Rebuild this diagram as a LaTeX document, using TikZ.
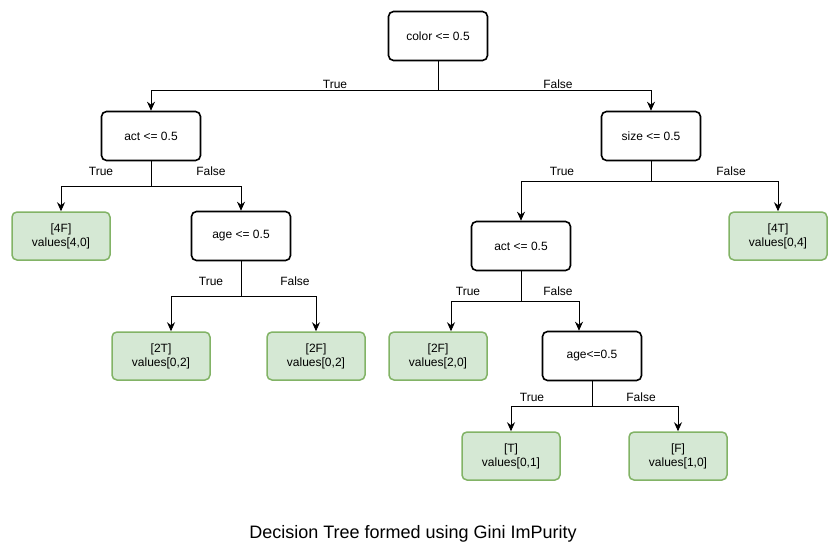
\documentclass[tikz,border=0pt]{standalone}
\usepackage{fontspec}
\setmainfont{Liberation Sans}
\usepackage{tikz}
\usetikzlibrary{arrows.meta}

\definecolor{leaffill}{HTML}{D5E8D4}
\definecolor{leafline}{HTML}{82B366}

\tikzset{
  test/.style={draw, line width=1.6pt, rounded corners=5pt, minimum width=99pt, minimum height=49pt, font=\fontsize{12}{14}\selectfont},
  leaf/.style={draw=leafline, fill=leaffill, line width=1.5pt, rounded corners=5pt, minimum width=98pt, minimum height=48pt, align=center, font=\fontsize{12}{14}\selectfont},
  arr/.style={-{Stealth[length=9pt,width=8pt]}, line width=0.9pt},
  lbl/.style={font=\fontsize{12}{14}\selectfont}
}

\begin{document}
\begin{tikzpicture}[x=1pt, y=-1pt]
\useasboundingbox (0,0) rectangle (839,555);

\node[test] (root) at (438, 36) {color <= 0.5};
\node[test] (act1) at (151, 136) {act <= 0.5};
\node[test] (size) at (651, 136) {size <= 0.5};
\node[leaf] (f4) at (61, 236) {[4F]\\values[4,0]};
\node[test] (age1) at (241, 236) {age <= 0.5};
\node[leaf] (t4) at (778, 236) {[4T]\\values[0,4]};
\node[test] (act2) at (521, 246) {act <= 0.5};
\node[leaf] (t2) at (161, 356) {[2T]\\values[0,2]};
\node[leaf] (f2) at (316, 356) {[2F]\\values[0,2]};
\node[leaf] (f2b) at (438, 356) {[2F]\\values[2,0]};
\node[test] (age2) at (592, 356) {age<=0.5};
\node[leaf] (t1) at (511, 456) {[T]\\values[0,1]};
\node[leaf] (f1) at (678, 456) {[F]\\values[1,0]};

\node[lbl] (rootT) at (335, 84) {True};
\node[lbl] (rootF) at (558, 84) {False};
\node[lbl] (act1T) at (101, 171) {True};
\node[lbl] (act1F) at (211, 171) {False};
\node[lbl] (age1T) at (211, 281) {True};
\node[lbl] (age1F) at (295, 281) {False};
\node[lbl] (sizeT) at (562, 171) {True};
\node[lbl] (sizeF) at (731, 171) {False};
\node[lbl] (act2T) at (468, 291) {True};
\node[lbl] (act2F) at (558, 291) {False};
\node[lbl] (age2T) at (532, 397) {True};
\node[lbl] (age2F) at (641, 397) {False};

\draw[arr] (root.south) -- ++(0,29) -| (act1.north);
\draw[arr] (root.south) -- ++(0,29) -| (size.north);
\draw[arr] (act1.south) -- ++(0,25) -| (f4.north);
\draw[arr] (act1.south) -- ++(0,25) -| (age1.north);
\draw[arr] (age1.south) -- ++(0,35) -| ([xshift=10pt]t2.north);
\draw[arr] (age1.south) -- ++(0,35) -| (f2.north);
\draw[arr] (size.south) -- ++(0,20) -| (act2.north);
\draw[arr] (size.south) -- ++(0,20) -| (t4.north);
\draw[arr] (act2.south) -- ++(0,30) -| ([xshift=13pt]f2b.north);
\draw[arr] (act2.south) -- ++(0,30) -| ([xshift=-13pt]age2.north);
\draw[arr] (age2.south) -- ++(0,25) -| (t1.north);
\draw[arr] (age2.south) -- ++(0,25) -| (f1.north);

\node[font=\fontsize{18}{21}\selectfont] (caption) at (413, 534) {Decision Tree formed using Gini ImPurity};

\end{tikzpicture}
\end{document}
